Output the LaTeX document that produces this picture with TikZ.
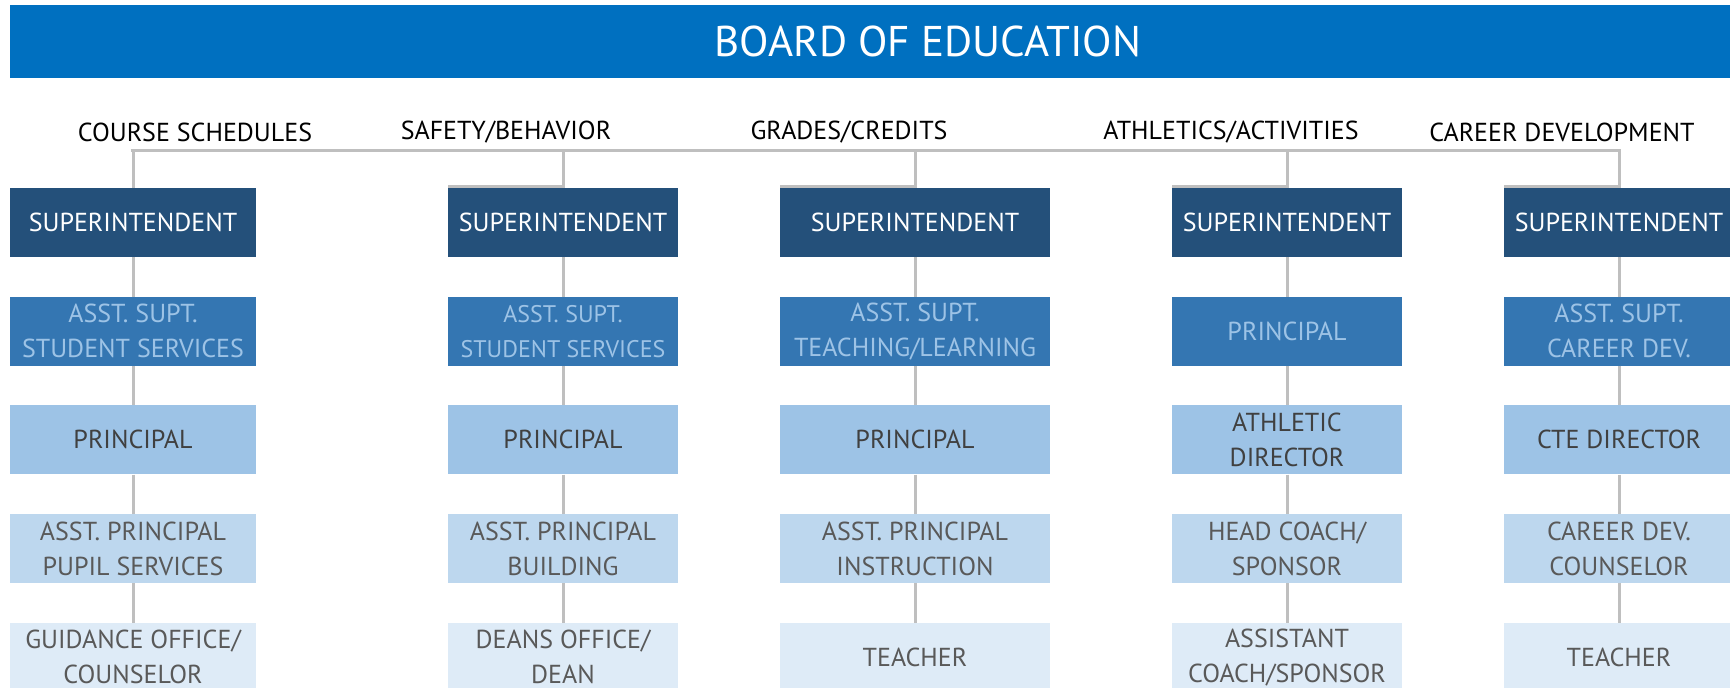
\documentclass[tikz,border=0pt]{standalone}
\usepackage{fontspec}
\setmainfont{PT Sans}
\definecolor{bannerc}{HTML}{0070C0}
\definecolor{fillA}{HTML}{24507A}
\definecolor{fillB}{HTML}{3476B2}
\definecolor{fillC}{HTML}{9DC3E6}
\definecolor{fillD}{HTML}{BDD7EE}
\definecolor{fillE}{HTML}{DEEBF7}
\definecolor{textB}{HTML}{9DC3E6}
\definecolor{textC}{HTML}{404040}
\definecolor{textD}{HTML}{595959}
\definecolor{connc}{HTML}{BFBFBF}
\tikzset{
  box/.style={rectangle, inner sep=0pt, minimum height=69pt, align=center,
    font=\fontsize{26}{35}\selectfont},
  lvA/.style={box, fill=fillA, text=white},
  lvB/.style={box, fill=fillB, text=textB},
  lvC/.style={box, fill=fillC, text=textC},
  lvD/.style={box, fill=fillD, text=textD},
  lvE/.style={box, fill=fillE, text=textD},
  wA/.style={minimum width=246pt},
  wB/.style={minimum width=230pt},
  wC/.style={minimum width=270pt},
  cat/.style={inner sep=0pt, font=\fontsize{26}{30}\selectfont, text=black},
  conn/.style={draw=connc, line width=3pt},
}
\begin{document}
\begin{tikzpicture}[x=1pt, y=-1pt]
\useasboundingbox (0,0) rectangle (1730,688);
% banner
\node[fill=bannerc, minimum width=1720pt, minimum height=73pt, inner sep=0pt, anchor=north west] (board) at (10,5) {};
\node[inner sep=0pt, text=white, font=\fontsize{43}{50}\selectfont] (title) at (928,41.5) {BOARD OF EDUCATION};
% category labels
\node[cat] (k1) at (195,132) {COURSE SCHEDULES};
\node[cat] (k2) at (506,132) {SAFETY/BEHAVIOR};
\node[cat] (k3) at (849,132) {GRADES/CREDITS};
\node[cat] (k4) at (1231,132) {ATHLETICS/ACTIVITIES};
\node[cat] (k5) at (1562,132) {CAREER DEVELOPMENT};
% column 1
\node[lvA,wA] (s1) at (133,222.5) {SUPERINTENDENT};
\node[lvB,wA] (a1) at (133,331.2) {ASST. SUPT.\\STUDENT SERVICES};
\node[lvC,wA] (p1) at (133,439.8) {PRINCIPAL};
\node[lvD,wA] (q1) at (133,548.5) {ASST. PRINCIPAL\\PUPIL SERVICES};
\node[lvE,wA] (g1) at (133,657.2) {GUIDANCE OFFICE/\\COUNSELOR};
% column 2
\node[lvA,wB] (s2) at (563,222.5) {SUPERINTENDENT};
\node[lvB,wB,font=\fontsize{24}{35}\selectfont] (a2) at (563,331.2) {ASST. SUPT.\\STUDENT SERVICES};
\node[lvC,wB] (p2) at (563,439.8) {PRINCIPAL};
\node[lvD,wB] (q2) at (563,548.5) {ASST. PRINCIPAL\\BUILDING};
\node[lvE,wB] (g2) at (563,657.2) {DEANS OFFICE/\\DEAN};
% column 3
\node[lvA,wC] (s3) at (915,222.5) {SUPERINTENDENT};
\node[lvB,wC] (a3) at (915,331.2) {ASST. SUPT.\\TEACHING/LEARNING};
\node[lvC,wC] (p3) at (915,439.8) {PRINCIPAL};
\node[lvD,wC] (q3) at (915,548.5) {ASST. PRINCIPAL\\INSTRUCTION};
\node[lvE,wC] (g3) at (915,657.2) {TEACHER};
% column 4
\node[lvA,wB] (s4) at (1287,222.5) {SUPERINTENDENT};
\node[lvB,wB] (a4) at (1287,331.2) {PRINCIPAL};
\node[lvC,wB] (p4) at (1287,439.8) {ATHLETIC\\DIRECTOR};
\node[lvD,wB] (q4) at (1287,548.5) {HEAD COACH/\\SPONSOR};
\node[lvE,wB] (g4) at (1287,657.2) {ASSISTANT\\COACH/SPONSOR};
% column 5
\node[lvA,wB] (s5) at (1619,222.5) {SUPERINTENDENT};
\node[lvB,wB] (a5) at (1619,331.2) {ASST. SUPT.\\CAREER DEV.};
\node[lvC,wB] (p5) at (1619,439.8) {CTE DIRECTOR};
\node[lvD,wB] (q5) at (1619,548.5) {CAREER DEV.\\COUNSELOR};
\node[lvE,wB] (g5) at (1619,657.2) {TEACHER};
% top bar
\coordinate (barL) at (132,150);
\coordinate (barR) at (1619,150);
\draw[conn] ([xshift=-1.5pt]barL) -- ([xshift=1.5pt]barR);
\draw[conn] (s1.north |- barL) -- (s1.north);
\foreach \c in {2,3,4,5}{
  \draw[conn] (s\c.north |- barL) -- ([yshift=1.5pt]s\c.north) -- ([yshift=1.5pt]s\c.north west);
}
% vertical connectors
\foreach \c in {1,2,3,4,5}{
  \draw[conn] (s\c.south) -- (a\c.north);
  \draw[conn] (a\c.south) -- (p\c.north);
  \draw[conn] (p\c.south) -- (q\c.north);
  \draw[conn] (q\c.south) -- (g\c.north);
}
\end{tikzpicture}
\end{document}
